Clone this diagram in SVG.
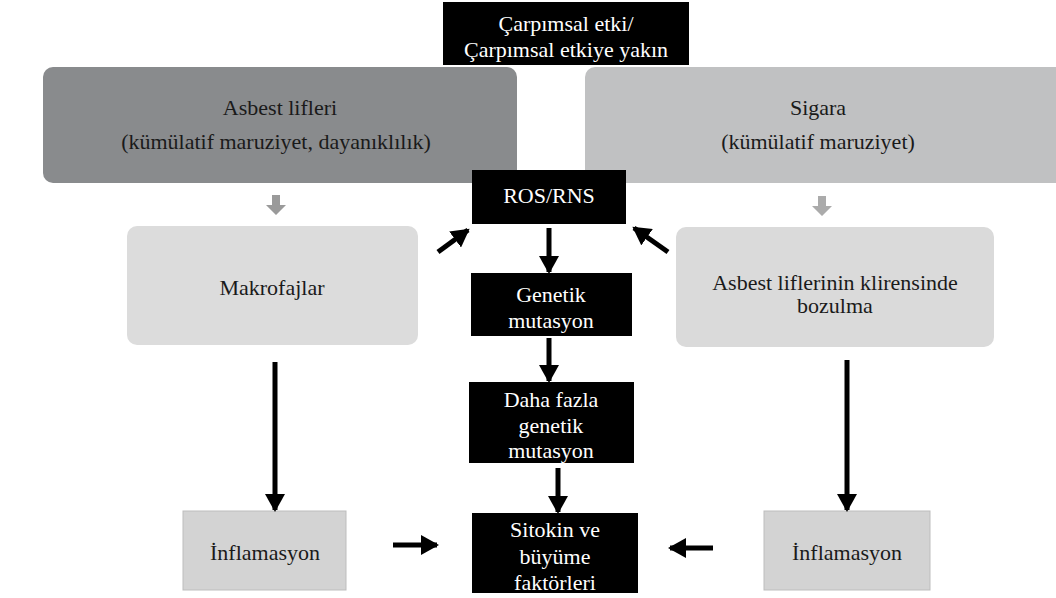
<svg xmlns="http://www.w3.org/2000/svg" width="1056" height="598" viewBox="0 0 1056 598">
<style>
text{font-family:'Liberation Serif','DejaVu Serif',serif;font-size:22px;text-anchor:middle}
.w{fill:#fff}
.k{fill:#1a1a1a}
.blk{fill:#000}
.ar{stroke:#000;stroke-width:5;fill:none}
</style>
<defs>
<marker id="ah" markerUnits="userSpaceOnUse" markerWidth="20" markerHeight="20" refX="16" refY="10" orient="auto">
<path d="M0,0 L18,10 L0,20 Z" fill="#000"/>
</marker>
</defs>
<rect width="1056" height="598" fill="#fff"/>
<g id="carpimsal">
<rect class="blk" x="443" y="2" width="246" height="63"/>
<text class="w" x="566" y="31">Çarpımsal etki/</text>
<text class="w" x="566" y="57">Çarpımsal etkiye yakın</text>
</g>
<g id="asbest">
<rect x="43" y="67" width="474" height="116" rx="10" fill="#898b8d"/>
<text class="k" x="280" y="115">Asbest lifleri</text>
<text class="k" x="276" y="149">(kümülatif maruziyet, dayanıklılık)</text>
</g>
<g id="sigara">
<rect x="585" y="67" width="480" height="116" rx="10" fill="#c0c1c2"/>
<text class="k" x="818" y="115">Sigara</text>
<text class="k" x="818" y="149">(kümülatif maruziyet)</text>
</g>
<g id="ros">
<rect class="blk" x="472" y="170" width="154" height="54"/>
<text class="w" x="549" y="203">ROS/RNS</text>
</g>
<g id="makrofajlar">
<rect x="127" y="226" width="291" height="119" rx="10" fill="#dcdcdc"/>
<text class="k" x="272" y="295">Makrofajlar</text>
</g>
<g id="klirens">
<rect x="676" y="227" width="318" height="120" rx="10" fill="#dadada"/>
<text class="k" x="835" y="290">Asbest liflerinin klirensinde</text>
<text class="k" x="835" y="313">bozulma</text>
</g>
<g id="genetik">
<rect class="blk" x="471" y="273" width="161" height="63"/>
<text class="w" x="551" y="302">Genetik</text>
<text class="w" x="551" y="328">mutasyon</text>
</g>
<g id="dahafazla">
<rect class="blk" x="469" y="382" width="165" height="81"/>
<text class="w" x="551" y="407">Daha fazla</text>
<text class="w" x="551" y="433">genetik</text>
<text class="w" x="551" y="458">mutasyon</text>
</g>
<g id="sitokin">
<rect class="blk" x="472" y="513" width="166" height="80"/>
<text class="w" x="555" y="537">Sitokin ve</text>
<text class="w" x="555" y="564">büyüme</text>
<text class="w" x="555" y="590">faktörleri</text>
</g>
<g id="inflamasyon-sol">
<rect x="183" y="511" width="163" height="79" fill="#d3d3d3" stroke="#bdbdbd" stroke-width="1"/>
<text class="k" x="265" y="560">İnflamasyon</text>
</g>
<g id="inflamasyon-sag">
<rect x="764" y="511" width="166" height="79" fill="#d3d3d3" stroke="#bdbdbd" stroke-width="1"/>
<text class="k" x="847" y="560">İnflamasyon</text>
</g>
<g id="connectors">
<path d="M272,195 h8 v10 h6 l-10,10 l-10,-10 h6 z" fill="#9a9a9a"/>
<path d="M818,196 h8 v10 h6 l-10,10 l-10,-10 h6 z" fill="#ababab"/>
<line class="ar" x1="438" y1="252" x2="468" y2="230" marker-end="url(#ah)"/>
<line class="ar" x1="668" y1="252" x2="634" y2="228" marker-end="url(#ah)"/>
<line class="ar" x1="549" y1="228" x2="549" y2="272" marker-end="url(#ah)"/>
<line class="ar" x1="549" y1="338" x2="549" y2="381" marker-end="url(#ah)"/>
<line class="ar" x1="558" y1="468" x2="558" y2="512" marker-end="url(#ah)"/>
<line class="ar" x1="275" y1="362" x2="275" y2="510" marker-end="url(#ah)"/>
<line class="ar" x1="847" y1="360" x2="847" y2="510" marker-end="url(#ah)"/>
<line class="ar" x1="393" y1="545" x2="437" y2="545" marker-end="url(#ah)"/>
<line class="ar" x1="713" y1="548" x2="670" y2="548" marker-end="url(#ah)"/>
</g>
</svg>
